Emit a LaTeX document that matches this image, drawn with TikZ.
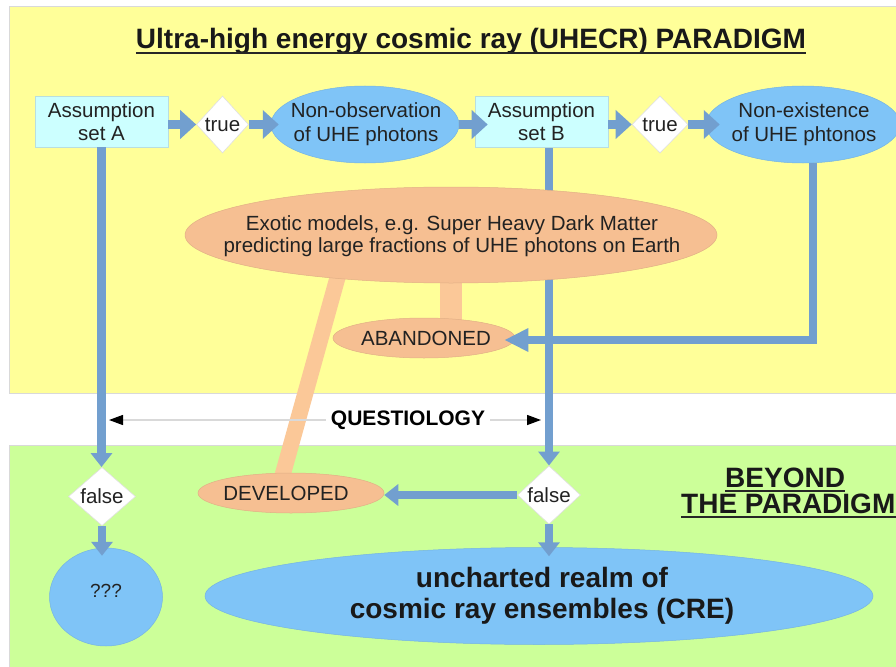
\documentclass[tikz,border=0pt]{standalone}
\usepackage{fontspec}
\setmainfont{Liberation Sans}
\usetikzlibrary{shapes.geometric,arrows.meta,calc}
\pgfdeclarelayer{back}
\pgfdeclarelayer{background}
\pgfsetlayers{back,background,main}
\definecolor{bgyellow}{HTML}{FFFF99}
\definecolor{bggreen}{HTML}{CCFF99}
\definecolor{boxcyan}{HTML}{CCFFFF}
\definecolor{ellblue}{HTML}{7FC4F7}
\definecolor{arrblue}{HTML}{729FCF}
\definecolor{ellorange}{HTML}{F6BF92}
\definecolor{barorange}{HTML}{FBC898}
\definecolor{txt}{HTML}{222222}
\begin{document}
\begin{tikzpicture}[x=1pt,y=-1pt,
  lbl/.style={font=\fontsize{20.5}{23.5}\selectfont, text=txt, align=center, inner sep=0pt},
  abox/.style={draw=boxcyan!75!gray, line width=0.6pt, fill=boxcyan, minimum width=133pt, minimum height=51pt, lbl},
  dia/.style={diamond, draw=gray!25, line width=0.6pt, fill=white, lbl},
  ellb/.style={ellipse, fill=ellblue, draw=ellblue!92!black, line width=0.5pt, inner sep=0pt},
  ello/.style={ellipse, fill=ellorange, draw=ellorange!92!black, line width=0.5pt, inner sep=0pt},
  barrowL/.style={draw=arrblue, line width=9pt, -{Triangle[length=16pt,width=28pt,color=arrblue]}},
  barrowS/.style={draw=arrblue, line width=8.5pt, -{Triangle[length=14pt,width=21pt,color=arrblue]}},
  bline/.style={draw=arrblue, line width=9pt},
  obar/.style={draw=barorange},
  qarr/.style={draw=gray!30, line width=1.3pt, -{Triangle[length=14pt,width=10pt,color=black]}},
  bigbold/.style={font=\fontsize{28}{31}\selectfont\bfseries, text=black!90, inner sep=0pt}
]
\useasboundingbox (0,0) rectangle (896,666);
\begin{pgfonlayer}{back}
  \fill[white] (0,0) rectangle (896,666);
  \draw[draw=gray!30, line width=0.8pt, fill=bgyellow] (9.5,6) rectangle (905,393);
  \draw[draw=gray!30, line width=0.8pt, fill=bggreen] (9.5,445) rectangle (905,680);
\end{pgfonlayer}

% title
\node[bigbold, anchor=base] (title) at (471,49) {Ultra-high energy cosmic ray (UHECR) PARADIGM};
\draw[line width=1.8pt, black!85] ([yshift=-4pt]title.base west) -- ([yshift=-4pt]title.base east);

% top row
\node[abox] (A) at (101.5,121.5) {Assumption\\set A};
\node[dia, minimum width=52pt, minimum height=57pt] (t1) at (222.5,124.5) {true};
\node[ellb, minimum width=188pt, minimum height=77pt] (nonobs) at (365,124.5) {};
\node[lbl] (nonobs-t) at (366,124) {Non-observation\\of UHE photons};
\node[abox] (B) at (541.5,121.5) {Assumption\\set B};
\node[dia, minimum width=56pt, minimum height=57pt] (t2) at (660,124.5) {true};
\node[ellb, minimum width=194pt, minimum height=77pt] (nonexist) at (803,124.5) {};
\node[lbl] (nonexist-t) at (804,124) {Non-existence\\of UHE phtonos};

% middle
\node[ello, minimum width=532pt, minimum height=96pt] (exotic) at (451,235) {};
\node[lbl, font=\fontsize{20.5}{22.5}\selectfont] (exotic-t) at (452,236) {Exotic models, e.g. Super Heavy Dark Matter\\predicting large fractions of UHE photons on Earth};
\node[ello, minimum width=182pt, minimum height=40pt] (abandoned) at (424,338) {};
\node[lbl] (abandoned-t) at (426,338) {ABANDONED};

% questiology
\node[font=\fontsize{21}{24}\selectfont\bfseries, text=black, inner sep=5pt] (quest) at (408,420) {QUESTIOLOGY};
\coordinate (qL) at (109,420);
\coordinate (qR) at (541,420);
\draw[qarr] (quest.west) -- (qL);
\draw[qarr] (quest.east) -- (qR);

% bottom
\node[dia, minimum width=67pt, minimum height=54pt] (f1) at (102,496.5) {false};
\node[dia, minimum width=63pt, minimum height=54pt] (f2) at (549,495) {false};
\node[ello, minimum width=186pt, minimum height=40pt] (developed) at (291,493) {};
\node[lbl] (developed-t) at (286,493) {DEVELOPED};
\node[ellb, minimum width=113pt, minimum height=98pt] (qmark) at (106,597) {};
\node[lbl, font=\fontsize{19}{22}\selectfont] (qmark-t) at (106,591) {???};
\node[ellb, minimum width=668pt, minimum height=97pt] (cre) at (539,596) {};
\node[bigbold, align=center, font=\fontsize{28}{31}\selectfont\bfseries] (cre-t) at (542,596) {uncharted realm of\\cosmic ray ensembles (CRE)};

\node[bigbold, anchor=base west] (beyond1) at (725,487) {BEYOND\ };
\draw[line width=1.8pt, black!85] ([yshift=-4pt]beyond1.base west) -- ([yshift=-4pt]beyond1.base east);
\node[bigbold, anchor=base west] (beyond2) at (681,513) {THE PARADIGM};
\draw[line width=1.8pt, black!85] ([yshift=-4pt]beyond2.base west) -- ([yshift=-4pt]beyond2.base east);

% connectors behind nodes
\begin{pgfonlayer}{background}
  \draw[barrowS] (B.south -| f2) -- (f2.north);
  \draw[obar, line width=22pt] (exotic.center |- exotic.south) ++(0,-10) -- (exotic.south |- abandoned.north) -- ++(0,10);
  \draw[obar, line width=16pt] ($(exotic.center)+(-110,30)$) -- ($(developed.center)+(-12,-5)$);
\end{pgfonlayer}

% connectors on top
\draw[barrowL] (A.east |- t1) -- (t1.west);
\draw[barrowL, shorten >=-8pt] (t1.east) -- (nonobs.west);
\draw[barrowL, shorten >=-13pt] (nonobs.east |- t1) -- (B.west |- t1);
\draw[barrowL] (B.east |- t2) -- (t2.west);
\draw[barrowL, shorten >=-14pt] (t2.east) -- (nonexist.west);
\draw[barrowS] (A.south) -- (A.south |- f1.north);
\draw[barrowS, shorten >=-8pt] (f1.south) -- (f1.south |- qmark.north);
\draw[barrowS, shorten >=-9pt] (f2.south) -- (f2.south |- cre.north);
\draw[barrowS] (f2.west) -- (f2.west -| developed.east);
\draw[draw=arrblue, line width=8.5pt, -{Triangle[length=24pt,width=22pt,color=arrblue]}, shorten >=-11pt] ([xshift=10pt]nonexist.south) |- ([yshift=-2pt]abandoned.east);
\end{tikzpicture}
\end{document}
